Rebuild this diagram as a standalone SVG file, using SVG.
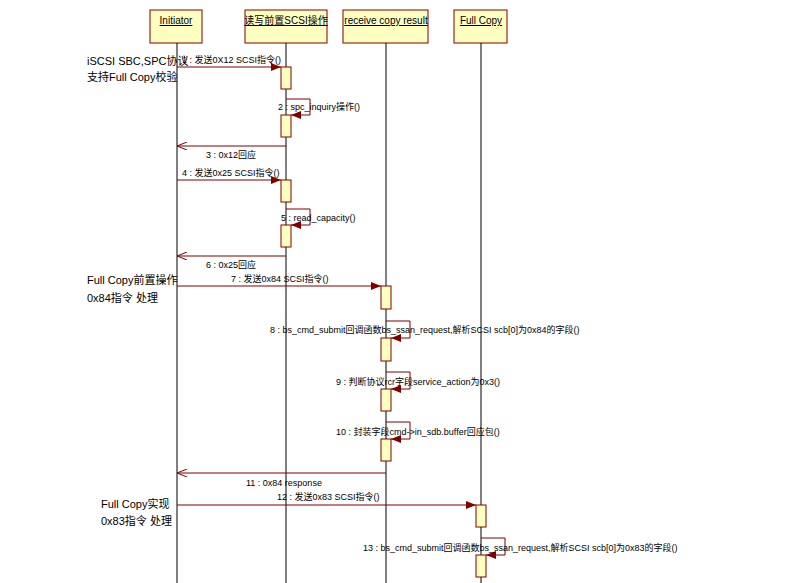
<svg xmlns="http://www.w3.org/2000/svg" width="800" height="583" viewBox="0 0 800 583">
<style>
.hd{fill:#ffffc0;stroke:#800000;stroke-width:1}
.ht{font-family:"Liberation Sans","Noto Sans CJK SC",sans-serif;font-size:10px;text-decoration:underline;text-anchor:middle}
.ll{stroke:#000;stroke-width:1}
.act{fill:#ffffc0;stroke:#800000;stroke-width:1}
.m{stroke:#800000;stroke-width:1;fill:none}
.t{font-family:"Liberation Sans","Noto Sans CJK SC",sans-serif;font-size:9px}
.n{font-family:"Liberation Sans","Noto Sans CJK SC",sans-serif;font-size:11px}
</style>
<defs>
<marker id="f" markerWidth="10" markerHeight="8" refX="10" refY="4" orient="auto" markerUnits="userSpaceOnUse"><path d="M0,0 L10,4 L0,8 Z" fill="#800000"/></marker>
<marker id="o" markerWidth="10" markerHeight="8" refX="10" refY="4" orient="auto" markerUnits="userSpaceOnUse"><path d="M0,0 L10,4 L0,8" fill="none" stroke="#800000"/></marker>
</defs>
<rect width="800" height="583" fill="#fff"/>
<g id="initiator"><rect class="hd" x="150" y="10" width="52" height="33"/><text class="ht" x="176" y="24">Initiator</text><line class="ll" x1="177" y1="43" x2="177" y2="583"/></g>
<g id="rw"><rect class="hd" x="245" y="10" width="82" height="33"/><text class="ht" x="286" y="24">读写前置SCSI操作</text><line class="ll" x1="286" y1="43" x2="286" y2="583"/></g>
<g id="recv"><rect class="hd" x="343" y="10" width="85" height="33"/><text class="ht" x="386" y="24">receive copy result</text><line class="ll" x1="386" y1="43" x2="386" y2="583"/></g>
<g id="fullcopy"><rect class="hd" x="454" y="10" width="53" height="33"/><text class="ht" x="481" y="24">Full Copy</text><line class="ll" x1="481" y1="43" x2="481" y2="583"/></g>
<g id="activations">
<rect class="act" x="281" y="67" width="10" height="22"/>
<rect class="act" x="281" y="115" width="10" height="22"/>
<rect class="act" x="281" y="180" width="10" height="22"/>
<rect class="act" x="281" y="225" width="10" height="22"/>
<rect class="act" x="381" y="286" width="10" height="23"/>
<rect class="act" x="381" y="338" width="10" height="23"/>
<rect class="act" x="381" y="389" width="10" height="22"/>
<rect class="act" x="381" y="439" width="10" height="22"/>
<rect class="act" x="476" y="505" width="10" height="22"/>
<rect class="act" x="476" y="555" width="10" height="22"/>
</g>
<g id="connectors">
<line class="m" x1="177" y1="67" x2="281" y2="67" marker-end="url(#f)"/>
<path class="m" d="M286,99 H310 V115 H291" marker-end="url(#f)"/>
<line class="m" x1="286" y1="146" x2="177" y2="146" marker-end="url(#o)"/>
<line class="m" x1="177" y1="180" x2="281" y2="180" marker-end="url(#f)"/>
<path class="m" d="M286,209 H310 V225 H291" marker-end="url(#f)"/>
<line class="m" x1="286" y1="256" x2="177" y2="256" marker-end="url(#o)"/>
<line class="m" x1="177" y1="286" x2="381" y2="286" marker-end="url(#f)"/>
<path class="m" d="M386,321 H410 V338 H391" marker-end="url(#f)"/>
<path class="m" d="M386,372 H410 V389 H391" marker-end="url(#f)"/>
<path class="m" d="M386,422 H410 V439 H391" marker-end="url(#f)"/>
<line class="m" x1="386" y1="473" x2="177" y2="473" marker-end="url(#o)"/>
<line class="m" x1="177" y1="505" x2="476" y2="505" marker-end="url(#f)"/>
<path class="m" d="M481,538 H505 V555 H486" marker-end="url(#f)"/>
</g>
<g id="labels">
<text class="t" x="182" y="63">1 : 发送0X12 SCSI指令()</text>
<text class="t" x="278" y="110">2 : spc_inquiry操作()</text>
<text class="t" x="206" y="158">3 : 0x12回应</text>
<text class="t" x="182" y="176">4 : 发送0x25 SCSI指令()</text>
<text class="t" x="281" y="221">5 : read_capacity()</text>
<text class="t" x="206" y="268">6 : 0x25回应</text>
<text class="t" x="231" y="282">7 : 发送0x84 SCSI指令()</text>
<text class="t" x="270" y="333">8 : bs_cmd_submit回调函数bs_ssan_request,解析SCSI scb[0]为0x84的字段()</text>
<text class="t" x="336" y="385">9 : 判断协议rcr字段service_action为0x3()</text>
<text class="t" x="336" y="435">10 : 封装字段cmd->in_sdb.buffer回应包()</text>
<text class="t" x="246" y="486">11 : 0x84 response</text>
<text class="t" x="277" y="500">12 : 发送0x83 SCSI指令()</text>
<text class="t" x="363" y="551">13 : bs_cmd_submit回调函数bs_ssan_request,解析SCSI scb[0]为0x83的字段()</text>
<text class="n" x="87" y="65">iSCSI SBC,SPC协议</text>
<text class="n" x="87" y="81">支持Full Copy校验</text>
<text class="n" x="87" y="284">Full Copy前置操作</text>
<text class="n" x="87" y="302">0x84指令 处理</text>
<text class="n" x="101" y="508">Full Copy实现</text>
<text class="n" x="101" y="525">0x83指令 处理</text>
</g>
</svg>
